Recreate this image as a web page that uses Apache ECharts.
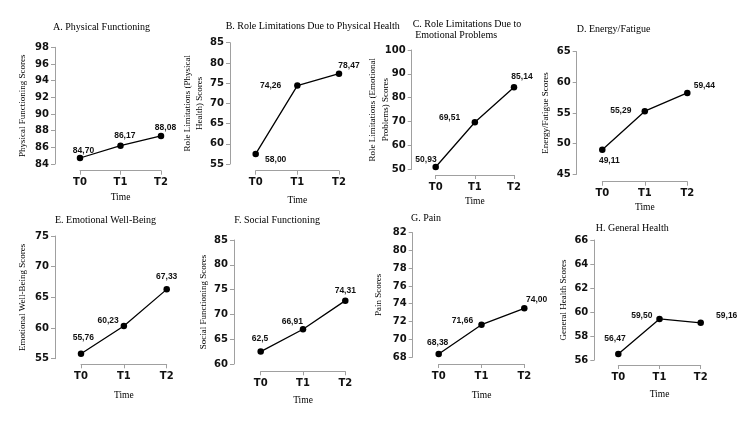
<!DOCTYPE html>
<html>
<head>
<meta charset="utf-8">
<script src="https://cdn.jsdelivr.net/npm/echarts@6/dist/echarts.min.js"></script>
<style>
  html, body { margin: 0; padding: 0; background: #fff; }
  #chart { width: 750px; height: 422px; }
</style>
</head>
<body>
<div id="chart"></div>
<script>
// time points shared by all panels
const times = ['T0', 'T1', 'T2']

const panelTitles = [
  'A. Physical Functioning',
  'B. Role Limitations Due to Physical Health',
  'C. Role Limitations Due to\n Emotional Problems',
  'D. Energy/Fatigue',
  'E. Emotional Well-Being',
  'F. Social Functioning',
  'G. Pain',
  'H. General Health'
]

const yNames = [
  'Physical Functioning Scores',
  'Role Limitations (Physical\nHealth) Scores',
  'Role Limitations (Emotional\nProblems) Scores',
  'Energy/Fatigue Scores',
  'Emotional Well-Being Scores',
  'Social Functioning Scores',
  'Pain Scores',
  'General Health Scores'
]

// y axis ranges
const yMin = [84, 55, 50, 45, 55, 60, 68, 56]
const yMax = [98, 85, 100, 65, 75, 85, 82, 66]
const yStep = [2, 5, 10, 5, 5, 5, 2, 2]

// plotted means
const physicalFunctioning = [84.72, 86.2, 87.36]
const roleLimitPhysical = [57.5, 74.4, 77.35]
const roleLimitEmotional = [50.97, 69.7, 84.35]
const energyFatigue = [49.0, 55.3, 58.27]
const emotionalWellBeing = [55.8, 60.33, 66.3]
const socialFunctioning = [62.5, 67.0, 72.77]
const pain = [68.34, 71.64, 73.48]
const generalHealth = [56.5, 59.42, 59.1]

// printed value labels
const physicalFunctioningLbl = ['84,70', '86,17', '88,08']
const roleLimitPhysicalLbl = ['58,00', '74,26', '78,47']
const roleLimitEmotionalLbl = ['50,93', '69,51', '85,14']
const energyFatigueLbl = ['49,11', '55,29', '59,44']
const emotionalWellBeingLbl = ['55,76', '60,23', '67,33']
const socialFunctioningLbl = ['62,5', '66,91', '74,31']
const painLbl = ['68,38', '71,66', '74,00']
const generalHealthLbl = ['56,47', '59,50', '59,16']

const values = [physicalFunctioning, roleLimitPhysical, roleLimitEmotional, energyFatigue,
  emotionalWellBeing, socialFunctioning, pain, generalHealth]
const labels = [physicalFunctioningLbl, roleLimitPhysicalLbl, roleLimitEmotionalLbl, energyFatigueLbl,
  emotionalWellBeingLbl, socialFunctioningLbl, painLbl, generalHealthLbl]

// panel geometry (px)
const layout = [
  { left: 80, right: 589, top: 47.3, bottom: 258, yOff: 25, xOff: 6.7, yGap: 26, xGap: 20.3, tx: 53, ty: 21.3 },
  { left: 255.7, right: 411, top: 42.7, bottom: 258, yOff: 25.7, xOff: 6.7, yGap: 22, xGap: 23.3, tx: 225.7, ty: 21 },
  { left: 435.7, right: 236, top: 50, bottom: 252.7, yOff: 24, xOff: 5.7, yGap: 20, xGap: 20.7, tx: 412.7, ty: 18.5, noMove: true },
  { left: 602.3, right: 62.7, top: 51.7, bottom: 247.7, yOff: 25.6, xOff: 7.4, yGap: 24.7, xGap: 19.3, tx: 576.7, ty: 24 },
  { left: 81, right: 583.3, top: 236, bottom: 63.3, yOff: 26, xOff: 5.6, yGap: 26.4, xGap: 25.4, tx: 55, ty: 214.7 },
  { left: 260.7, right: 404.7, top: 240, bottom: 58, yOff: 26.7, xOff: 7.3, yGap: 22.7, xGap: 22.7, tx: 234.3, ty: 215 },
  { left: 438.7, right: 225.7, top: 232.7, bottom: 65, yOff: 26, xOff: 7, yGap: 28, xGap: 25, tx: 411, ty: 213 },
  { left: 618.3, right: 49.3, top: 240, bottom: 62, yOff: 24, xOff: 5, yGap: 24.7, xGap: 23.3, tx: 595.7, ty: 222.3 }
]

// where each value label sits relative to its dot
const labelOffsets = [
  [[3.5, -7], [4.3, -9.7], [4.5, -8.3]],
  [[20, 6], [-26.7, -0.3], [10, -8.3]],
  [[-9.7, -7.3], [-25.3, -4.3], [8, -11]],
  [[7, 10.7], [-24, -0.3], [17, -7.7]],
  [[2.3, -16], [-15.7, -5], [0, -12.7]],
  [[-0.7, -12.7], [-10.7, -7.7], [0, -10.3]],
  [[-1, -11.3], [-19, -3.7], [12.3, -9]],
  [[-3.3, -15.7], [-17.7, -3.3], [26, -7]]
]

const axisGray = '#a0a0a0'
const serif = 'Liberation Serif'

const option = {
  animation: false,
  backgroundColor: '#fff',
  title: [],
  grid: [],
  xAxis: [],
  yAxis: [],
  series: []
}

layout.forEach((p, i) => {
  option.title.push({
    text: panelTitles[i],
    left: p.tx,
    top: p.ty,
    padding: 0,
    textStyle: { fontFamily: serif, fontSize: 10, fontWeight: 'normal', color: '#000', lineHeight: 11.5 }
  })
  option.grid.push({ left: p.left, right: p.right, top: p.top, bottom: p.bottom, containLabel: false })
  option.xAxis.push({
    type: 'category',
    gridIndex: i,
    data: times,
    boundaryGap: false,
    offset: p.xOff,
    name: 'Time',
    nameLocation: 'middle',
    nameGap: p.xGap,
    nameTextStyle: { fontFamily: serif, fontSize: 9.5, color: '#000', lineHeight: 12 },
    axisLine: { lineStyle: { color: axisGray, width: 1 } },
    axisTick: { show: true, length: 4, lineStyle: { color: axisGray } },
    axisLabel: { margin: 7, fontFamily: 'DejaVu Sans', fontWeight: 'bold', fontSize: 10, color: '#111' },
    splitLine: { show: false }
  })
  const yAxis = {
    type: 'value',
    gridIndex: i,
    min: yMin[i],
    max: yMax[i],
    interval: yStep[i],
    offset: p.yOff,
    name: yNames[i],
    nameLocation: 'middle',
    nameRotate: 90,
    nameGap: p.yGap,
    nameTextStyle: { fontFamily: serif, fontSize: 9, color: '#000', lineHeight: 12.5 },
    axisLine: { show: true, lineStyle: { color: axisGray, width: 1 } },
    axisTick: { show: true, length: 4, lineStyle: { color: axisGray } },
    axisLabel: { margin: 6, fontFamily: 'DejaVu Sans', fontWeight: 'bold', fontSize: 10, color: '#111' },
    splitLine: { show: false }
  }
  if (p.noMove) yAxis.nameMoveOverlap = false
  option.yAxis.push(yAxis)
  option.series.push({
    type: 'line',
    xAxisIndex: i,
    yAxisIndex: i,
    symbol: 'circle',
    symbolSize: 6.5,
    lineStyle: { color: '#000', width: 1.3 },
    itemStyle: { color: '#000' },
    label: {
      show: true,
      position: 'inside',
      fontFamily: 'Liberation Sans',
      fontWeight: 'bold',
      fontSize: 8.5,
      color: '#111',
      formatter: (d) => labels[i][d.dataIndex]
    },
    data: values[i].map((v, j) => ({ value: v, label: { offset: labelOffsets[i][j] } }))
  })
})

const chart = echarts.init(document.getElementById('chart'), null, { renderer: 'canvas' })
chart.setOption(option)
</script>
</body>
</html>
